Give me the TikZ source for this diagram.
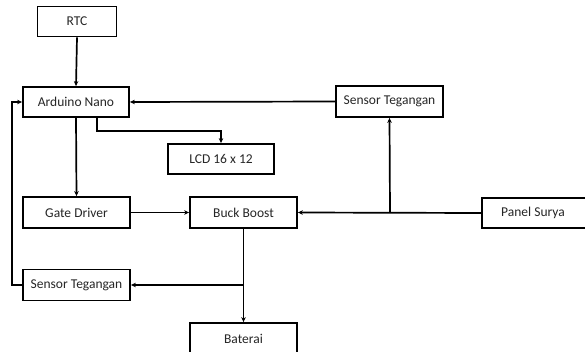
\documentclass[tikz,border=0pt]{standalone}
\usepackage{fontspec}
\setmainfont{Carlito}
\usetikzlibrary{arrows.meta}
\begin{document}
\begin{tikzpicture}[x=1pt,y=-1pt,
  blk/.style={draw=black,line width=1.8pt,fill=white,inner sep=0pt,font=\fontsize{13.5}{15}\selectfont,text=black!85},
  con/.style={line width=1.7pt,-{Stealth[length=5pt,width=4.5pt]}},
  ln/.style={line width=1.7pt}]
\useasboundingbox (0,0) rectangle (585,352);
\clip (0,0) rectangle (585,352);
\node[blk,minimum width=79pt,minimum height=30pt] (rtc) at (77,21.5) {RTC};
\node[blk,minimum width=106pt,minimum height=30pt] (ard) at (76,102) {Arduino Nano};
\node[blk,minimum width=106pt,minimum height=30pt] (lcd) at (221,159) {LCD 16 x 12};
\node[blk,minimum width=107pt,minimum height=31pt] (sen1) at (389.5,101.5) {Sensor Tegangan};
\node[blk,minimum width=107pt,minimum height=31pt] (gd) at (76.5,212.5) {Gate Driver};
\node[blk,minimum width=107pt,minimum height=31pt] (bb) at (243.5,212.5) {Buck Boost};
\node[blk,minimum width=107pt,minimum height=31pt] (sen2) at (76.5,285) {Sensor Tegangan};
\node[blk,minimum width=107pt,minimum height=40pt] (bat) at (243.5,343) {};
\node[font=\fontsize{13.5}{15}\selectfont,text=black!85] (battxt) at (243.5,339) {Baterai};
\node[blk,minimum width=108pt,minimum height=30pt] (ps) at (536,213) {};
\node[font=\fontsize{13.5}{15}\selectfont,text=black!85] (pstxt) at (533,213) {Panel Surya};
\coordinate (j1) at (390,212.5);
\coordinate (j2) at (243.5,285);
\coordinate (lc) at (12,285);
\coordinate (lt) at (12,102);
\coordinate (ab) at (97,117);
\coordinate (ac) at (97,131);
\coordinate (lc2) at (221,131);
\draw[con] (rtc.south) -- (ard.north);
\draw[con] (ard.south) -- (gd.north);
\draw[con] (ab) -- (ac) -- (lc2) -- (lcd.north);
\draw[con] (sen1.west) -- (ard.east);
\draw[con] (gd.east) -- (bb.west);
\draw[con] (ps.west) -- (bb.east);
\draw[con] (j1) -- (sen1.south);
\draw[con] (bb.south) -- (bat.north);
\draw[con] (j2) -- (sen2.east);
\draw[con] (sen2.west) -- (lc) -- (lt) -- (ard.west);
\end{tikzpicture}
\end{document}
